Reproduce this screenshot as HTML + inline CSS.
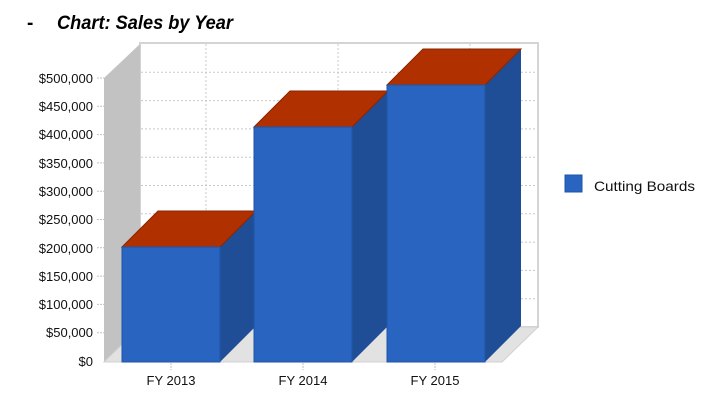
<!DOCTYPE html>
<html><head><meta charset="utf-8"><style>
html,body{margin:0;padding:0;background:#fff;}
svg{display:block;font-family:"Liberation Sans",Arial,sans-serif;}
</style></head><body>
<svg width="722" height="404" viewBox="0 0 722 404" xmlns="http://www.w3.org/2000/svg">
<text x="27" y="29" font-size="19" font-weight="bold">-</text>
<text x="57" y="29" font-size="19" font-weight="bold" font-style="italic" textLength="176" lengthAdjust="spacingAndGlyphs">Chart: Sales by Year</text>
<rect x="140" y="43" width="398" height="284" fill="#fff" stroke="#d4d4d4" stroke-width="2"/>
<g stroke="#c8c8c8" stroke-dasharray="2,2" stroke-width="1">
<line x1="141" x2="537" y1="72.3" y2="72.3"/><line x1="141" x2="537" y1="100.6" y2="100.6"/>
<line x1="141" x2="537" y1="128.9" y2="128.9"/><line x1="141" x2="537" y1="157.2" y2="157.2"/>
<line x1="141" x2="537" y1="185.5" y2="185.5"/><line x1="141" x2="537" y1="213.8" y2="213.8"/>
<line x1="141" x2="537" y1="242.1" y2="242.1"/><line x1="141" x2="537" y1="270.4" y2="270.4"/>
<line x1="141" x2="537" y1="298.7" y2="298.7"/>
<line x1="206" x2="206" y1="44" y2="326"/><line x1="338" x2="338" y1="44" y2="326"/><line x1="470" x2="470" y1="44" y2="326"/>
</g>
<polygon points="104,78 140,44 140,327 104,362" fill="#c2c2c2"/>
<polygon points="104,362 140,327 538,327 502,362" fill="#e2e2e2" stroke="#d0d0d0" stroke-width="1"/>
<g stroke="#c0c0c0" stroke-dasharray="2,1">
<line x1="97" x2="104" y1="78" y2="78"/><line x1="97" x2="104" y1="106.3" y2="106.3"/><line x1="97" x2="104" y1="134.6" y2="134.6"/>
<line x1="97" x2="104" y1="162.9" y2="162.9"/><line x1="97" x2="104" y1="191.2" y2="191.2"/><line x1="97" x2="104" y1="219.5" y2="219.5"/>
<line x1="97" x2="104" y1="247.8" y2="247.8"/><line x1="97" x2="104" y1="276.1" y2="276.1"/><line x1="97" x2="104" y1="304.4" y2="304.4"/>
<line x1="97" x2="104" y1="332.7" y2="332.7"/>
</g>
<g font-size="13" text-anchor="end" fill="#111">
<text x="93" y="83">$500,000</text><text x="93" y="111">$450,000</text><text x="93" y="139">$400,000</text>
<text x="93" y="168">$350,000</text><text x="93" y="196">$300,000</text><text x="93" y="224">$250,000</text>
<text x="93" y="253">$200,000</text><text x="93" y="281">$150,000</text><text x="93" y="309">$100,000</text>
<text x="93" y="337">$50,000</text><text x="93" y="366">$0</text>
</g>
<g stroke-width="1">
<polygon points="220,247 256,211 256,326 220,362" fill="#1f4e96"/>
<polygon points="122,247 158,211 256,211 220,247" fill="#b03000" stroke="#8a2600"/>
<rect x="122" y="247" width="98" height="115" fill="#2864c0" stroke="#1f55a8"/>
<polygon points="352,127 388,91 388,326 352,362" fill="#1f4e96"/>
<polygon points="254,127 290,91 388,91 352,127" fill="#b03000" stroke="#8a2600"/>
<rect x="254" y="127" width="98" height="235" fill="#2864c0" stroke="#1f55a8"/>
<polygon points="485,85 521,49 521,326 485,362" fill="#1f4e96"/>
<polygon points="387,85 423,49 521,49 485,85" fill="#b03000" stroke="#8a2600"/>
<rect x="387" y="85" width="98" height="277" fill="#2864c0" stroke="#1f55a8"/>
</g>
<g stroke="#c0c0c0" stroke-dasharray="2,1">
<line x1="171" x2="171" y1="363" y2="370"/><line x1="303" x2="303" y1="363" y2="370"/><line x1="435" x2="435" y1="363" y2="370"/>
</g>
<g font-size="13" text-anchor="middle" fill="#111">
<text x="171" y="385">FY 2013</text><text x="303" y="385">FY 2014</text><text x="435" y="385">FY 2015</text>
</g>
<rect x="565" y="175" width="17" height="17" fill="#2864c0" stroke="#1f55a8"/>
<text x="594" y="191" font-size="14" fill="#111" textLength="101" lengthAdjust="spacingAndGlyphs">Cutting Boards</text>
</svg>
</body></html>
